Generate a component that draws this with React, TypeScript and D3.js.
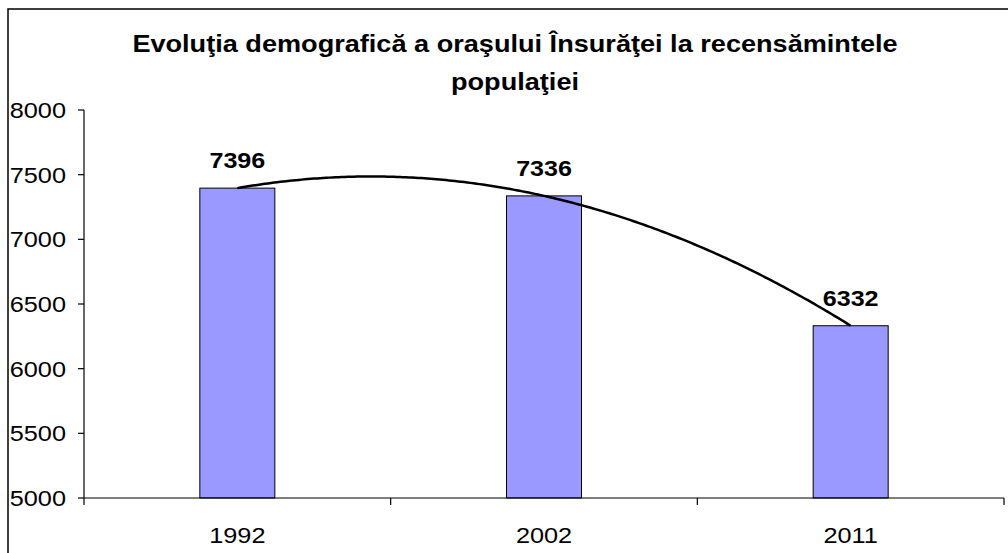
import React from "react";
import * as d3 from "d3";

const categories = ["1992", "2002", "2011"];
const values = [7396, 7336, 6332];
const yTicks = [5000, 5500, 6000, 6500, 7000, 7500, 8000];
const titleLines = ["Evoluţia demografică a oraşului Însurăţei la recensămintele", "populaţiei"];

function quadFit(ys: number[]) {
  const n = ys.length;
  const xs = ys.map((_, i) => i + 1);
  const s = [0, 0, 0, 0, 0];
  const t = [0, 0, 0];
  for (let i = 0; i < n; i++) {
    for (let k = 0; k < 5; k++) s[k] += Math.pow(xs[i], k);
    for (let k = 0; k < 3; k++) t[k] += ys[i] * Math.pow(xs[i], k);
  }
  const M = [
    [s[0], s[1], s[2], t[0]],
    [s[1], s[2], s[3], t[1]],
    [s[2], s[3], s[4], t[2]],
  ];
  for (let i = 0; i < 3; i++) {
    for (let j = i + 1; j < 3; j++) {
      const f = M[j][i] / M[i][i];
      for (let k = i; k < 4; k++) M[j][k] -= f * M[i][k];
    }
  }
  const c = [0, 0, 0];
  for (let i = 2; i >= 0; i--) {
    let v = M[i][3];
    for (let k = i + 1; k < 3; k++) v -= M[i][k] * c[k];
    c[i] = v / M[i][i];
  }
  return (x: number) => c[0] + c[1] * x + c[2] * x * x;
}

function SText(props: { x: number; y: number; sx?: number; anchor?: string; size: number; bold?: boolean; children: any }) {
  const sx = props.sx ?? 1.1;
  return (
    <g transform={`translate(${props.x},${props.y}) scale(${sx},1)`}>
      <text x={0} y={0} textAnchor={props.anchor || "middle"} fontSize={props.size} fontWeight={props.bold ? "bold" : "normal"}>
        {props.children}
      </text>
    </g>
  );
}

export default function App() {
  const W = 1008, H = 553;
  const left = 84, right = 1004, top = 110, bottom = 498;
  const x = d3.scaleBand<string>().domain(categories).range([left, right]).paddingInner(0).paddingOuter(0);
  const y = d3.scaleLinear().domain([5000, 8000]).range([bottom, top]);
  const bw = 75;
  const font = "Arial, 'Liberation Sans', sans-serif";
  const f = quadFit(values);
  const xc = (i: number) => (x(categories[0]) as number) + x.bandwidth() * (i + 0.5);
  const pts: [number, number][] = d3.range(0, 200.0001, 1).map((k) => {
    const t = 1 + (k / 200) * (values.length - 1);
    return [xc(t - 1), y(f(t))];
  });
  const line = d3.line<[number, number]>().curve(d3.curveLinear)(pts) || "";

  return (
    <svg width={W} height={H} style={{ position: "absolute", left: 0, top: 0, background: "#fff" }} fontFamily={font}>
      <rect x={8} y={9} width={1040} height={600} fill="#fff" stroke="#000" strokeWidth={1.5} />
      <SText x={515} y={52} size={24} bold sx={1.13}>{titleLines[0]}</SText>
      <SText x={515} y={90} size={24} bold sx={1.13}>{titleLines[1]}</SText>
      {categories.map((c, i) => (
        <rect key={c} x={xc(i) - bw / 2} y={y(values[i])} width={bw} height={bottom - y(values[i])}
          fill="#9999FF" stroke="#000" strokeWidth={1} />
      ))}
      <path d={line} fill="none" stroke="#000" strokeWidth={2.5} />
      {categories.map((c, i) => (
        <SText key={c} x={xc(i)} y={y(values[i]) - 20} size={22} bold sx={1.14}>{values[i]}</SText>
      ))}
      <line x1={left} x2={left} y1={top} y2={bottom} stroke="#000" strokeWidth={1.2} />
      {yTicks.map((t) => (
        <g key={t}>
          <line x1={left - 6} x2={left} y1={y(t)} y2={y(t)} stroke="#000" strokeWidth={1.2} />
          <SText x={66} y={y(t) + 8} size={22} anchor="end" sx={1.15}>{t}</SText>
        </g>
      ))}
      <line x1={left} x2={right} y1={bottom} y2={bottom} stroke="#000" strokeWidth={1.2} />
      {[...categories.map((c) => x(c) as number), right].map((v, i) => (
        <line key={i} x1={v} x2={v} y1={bottom} y2={bottom + 7} stroke="#000" strokeWidth={1.2} />
      ))}
      {categories.map((c, i) => (
        <SText key={c} x={xc(i)} y={543} size={22} sx={1.15}>{c}</SText>
      ))}
    </svg>
  );
}
